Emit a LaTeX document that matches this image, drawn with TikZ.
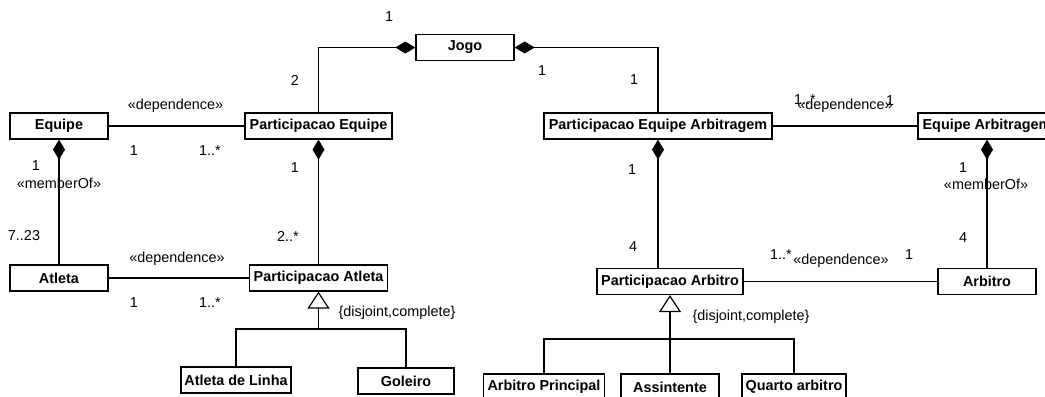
\documentclass[tikz,border=0pt]{standalone}
\usepackage{fontspec}
\setmainfont{Liberation Sans}
\usetikzlibrary{arrows.meta}

\begin{document}
\begin{tikzpicture}[x=0.75pt,y=-0.75pt,
  cls/.style={draw, line width=0.9pt, minimum height=19.5pt, inner sep=0pt,
    font=\fontsize{10.8}{13}\selectfont\bfseries},
  lbl/.style={inner sep=0pt, font=\fontsize{10.8}{13}\selectfont},
  conn/.style={line width=0.9pt},
  comp/.style={conn, -{Diamond[length=15pt,width=9pt]}},
  gen/.style={conn, -{Triangle[open,length=12.75pt,width=16.5pt,fill=white]}}]

\useasboundingbox (0,0) rectangle (1045,396);

% classes
\node[cls, minimum width=73.5pt]  (jogo)   at (465,47.5)  {Jogo};
\node[cls, minimum width=73.5pt]  (equipe) at (59,126)    {Equipe};
\node[cls, minimum width=110.25pt](pe)     at (318.5,126) {Participacao Equipe};
\node[cls, minimum width=171pt]   (pea)    at (658,126)   {Participacao Equipe Arbitragem};
\node[cls, minimum width=103.5pt] (ea)     at (987,126)   {Equipe Arbitragem};
\node[cls, minimum width=73.5pt]  (atleta) at (59,278)    {Atleta};
\node[cls, minimum width=103.5pt] (pa)     at (318.5,278) {Participacao Atleta};
\node[cls, minimum width=82.5pt]  (adl)    at (236,380)   {Atleta de Linha};
\node[cls, minimum width=72pt]    (gol)    at (406,381)   {Goleiro};
\node[cls, minimum width=109.5pt] (parb)   at (670,281.5) {Participacao Arbitro};
\node[cls, minimum width=73.5pt]  (arb)    at (987,281.5) {Arbitro};
\node[cls, minimum width=90.75pt] (ap)     at (544,387)   {Arbitro Principal};
\node[cls, minimum width=73.5pt]  (ass)    at (670,387)   {Assintente};
\node[cls, minimum width=78pt]    (qa)     at (794,387)   {Quarto arbitro};

% junction points of the generalization sets
\coordinate (gbarA) at (318.5,329);
\coordinate (gbarB) at (670,339);

% compositions
\draw[comp] (pe.north) |- (jogo.west);
\draw[comp] (pea.north) |- (jogo.east);
\draw[comp] (atleta.north) -- (equipe.south);
\draw[comp] (pa.north) -- (pe.south);
\draw[comp] (parb.north -| pea.south) -- (pea.south);
\draw[comp] (arb.north) -- (ea.south);

% dependence associations
\draw[conn] (equipe) -- (pe);
\draw[conn] (atleta) -- (pa);
\draw[conn] (pea) -- (ea);
\draw[conn] (parb) -- (arb);

% generalizations
\draw[gen] (gbarA) -- (pa.south);
\draw[conn] (adl.north) |- (gbarA) -| (gol.north);
\draw[gen] (gbarB) -- (parb.south);
\draw[conn] (ap.north) |- (gbarB) -| (qa.north);
\draw[conn] (ass.north) -- (gbarB);

% multiplicities and stereotypes
\node[lbl] (m1)  at (389,17)  {1};
\node[lbl] (m2)  at (295,80)  {2};
\node[lbl] (m3)  at (542,71)  {1};
\node[lbl] (m4)  at (634,80)  {1};
\node[lbl] (d1)  at (175.5,106) {«dependence»};
\node[lbl] (m5)  at (134,151) {1};
\node[lbl] (m6)  at (210,151) {1..*};
\node[lbl] (m7)  at (295,168) {1};
\node[lbl] (m8)  at (36,166)  {1};
\node[lbl] (mo1) at (59,183)  {«memberOf»};
\node[lbl] (m9)  at (24,236)  {7..23};
\node[lbl] (m10) at (288,236) {2..*};
\node[lbl] (d2)  at (177,259) {«dependence»};
\node[lbl] (m11) at (134,303) {1};
\node[lbl] (m12) at (210,303) {1..*};
\node[lbl] (dc1) at (397,313) {\{disjoint,complete\}};

\node[lbl] (m13) at (805,100) {1..*};
\node[lbl] (d3)  at (845,106) {«dependence»};
\node[lbl] (m14) at (890,101) {1};
\node[lbl] (m15) at (632,170) {1};
\node[lbl] (m16) at (633,247) {4};
\node[lbl] (m17) at (963,168) {1};
\node[lbl] (mo2) at (986,184) {«memberOf»};
\node[lbl] (m18) at (963,238) {4};
\node[lbl] (m19) at (781,255) {1..*};
\node[lbl] (d4)  at (841,261) {«dependence»};
\node[lbl] (m20) at (909,255) {1};
\node[lbl] (dc2) at (751,317) {\{disjoint,complete\}};
\end{tikzpicture}
\end{document}
